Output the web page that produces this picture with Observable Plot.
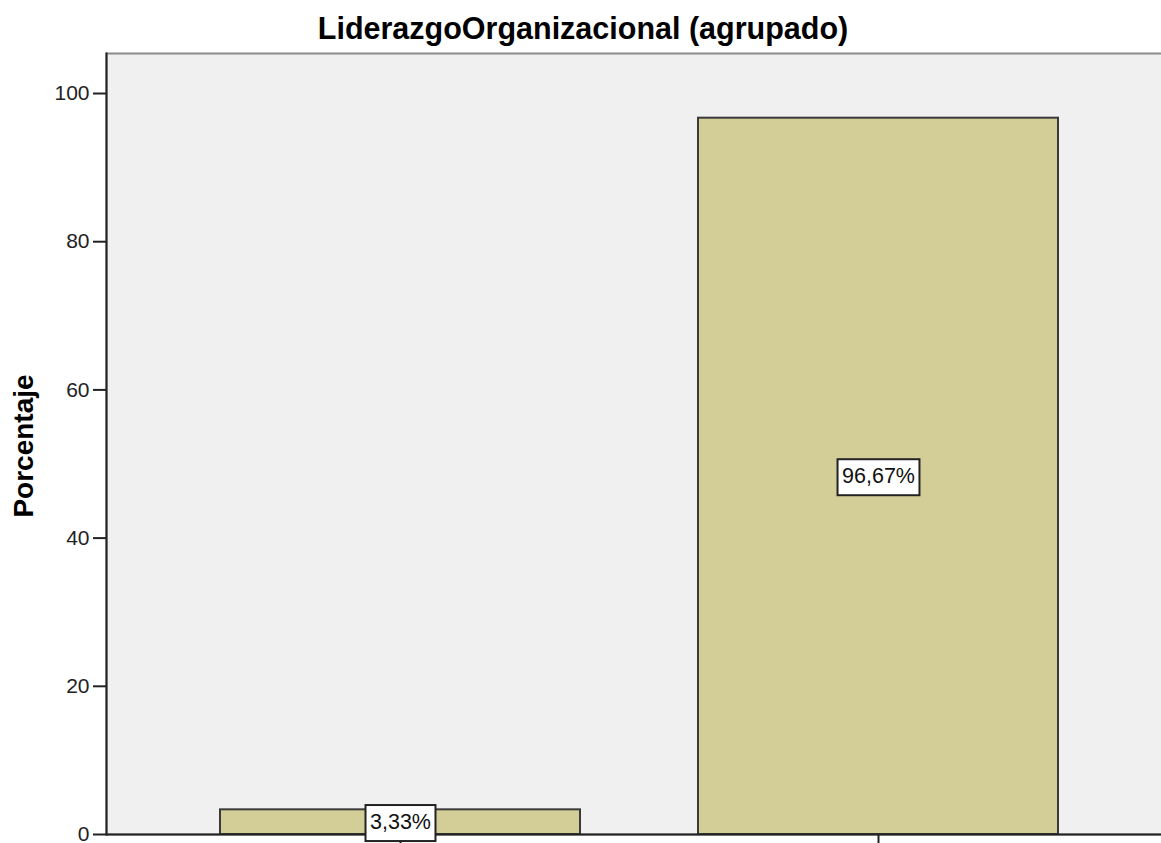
<!DOCTYPE html>
<html>
<head>
<meta charset="utf-8">
<script src="https://cdn.jsdelivr.net/npm/d3@7"></script>
<script src="https://cdn.jsdelivr.net/npm/@observablehq/plot@0.6"></script>
<style>
  html, body { margin: 0; padding: 0; background: #ffffff; overflow: hidden; width: 1161px; height: 843px; }
  #title { box-sizing: border-box; height: 44px; padding-top: 13px; width: 1166px; text-align: center;
           font-family: "Liberation Sans", Arial, sans-serif; font-weight: bold; font-size: 30.5px; line-height: 30px; color: #000; white-space: nowrap; }
  #chart svg { display: block; max-width: none !important; }
</style>
</head>
<body>
<div id="title">LiderazgoOrganizacional (agrupado)</div>
<div id="chart"></div>
<script>
// Data
const categories = ["Medio", "Alto"];
const percentages = [3.33, 96.67];
const valueLabels = ["3,33%", "96,67%"];
const yTicks = [0, 20, 40, 60, 80, 100];
const yTitle = "Porcentaje";

const data = categories.map((c, i) => ({cat: c, pct: percentages[i], label: valueLabels[i]}));

const font = '"Liberation Sans", Arial, sans-serif';

const chart = Plot.plot({
  width: 1171,
  height: 820,
  marginTop: 9,
  marginBottom: 30,
  marginLeft: 106,
  marginRight: 0,
  style: {fontFamily: font, fontSize: "21px", color: "#222", background: "transparent", maxWidth: "none"},
  x: {type: "band", domain: categories, paddingInner: 0.247, paddingOuter: 0.236, axis: null},
  y: {domain: [0, 105.4], axis: null},
  marks: [
    Plot.frame({fill: "#f0f0f0", stroke: "#8c8c8c", strokeWidth: 2}),
    Plot.barY(data, {x: "cat", y: "pct", fill: "#d3ce97", stroke: "#3a3a3a", strokeWidth: 2}),
    Plot.ruleY([0], {stroke: "#222", strokeWidth: 2}),
    Plot.frame({anchor: "left", stroke: "#222", strokeWidth: 2}),
    Plot.axisY({ticks: yTicks, tickSize: 13, tickPadding: 4, fontSize: 21, label: null, stroke: "#222", strokeWidth: 2}),
    Plot.axisX({tickSize: 13, tickFormat: () => "", label: null, stroke: "#222", strokeWidth: 2}),
    Plot.text(data, {x: "cat", y: d => d.pct / 2, text: "label", fontSize: 21.5, fill: "#111", className: "vlabel"}),
    Plot.text([yTitle], {frameAnchor: "left", textAnchor: "middle", lineAnchor: "middle", rotate: -90, dx: -82, dy: 2, fontSize: 28, fontWeight: "bold", fill: "#000"})
  ]
});

document.getElementById("chart").appendChild(chart);

// white boxes behind the value labels
const g = chart.querySelector("g.vlabel") || chart.querySelector(".vlabel");
if (g) {
  const texts = g.querySelectorAll("text");
  texts.forEach(t => {
    const bb = t.getBBox();
    const ns = "http://www.w3.org/2000/svg";
    const r = document.createElementNS(ns, "rect");
    const cx = bb.x + bb.width / 2, cy = bb.y + bb.height / 2;
    const w = bb.width + 9, h = 36;
    r.setAttribute("x", cx - w / 2);
    r.setAttribute("y", cy - h / 2 + 1);
    r.setAttribute("width", w);
    r.setAttribute("height", h);
    r.setAttribute("fill", "#ffffff");
    r.setAttribute("stroke", "#222");
    r.setAttribute("stroke-width", "2");
    if (t.getAttribute("transform")) r.setAttribute("transform", t.getAttribute("transform"));
    g.insertBefore(r, t);
  });
}
</script>
</body>
</html>
